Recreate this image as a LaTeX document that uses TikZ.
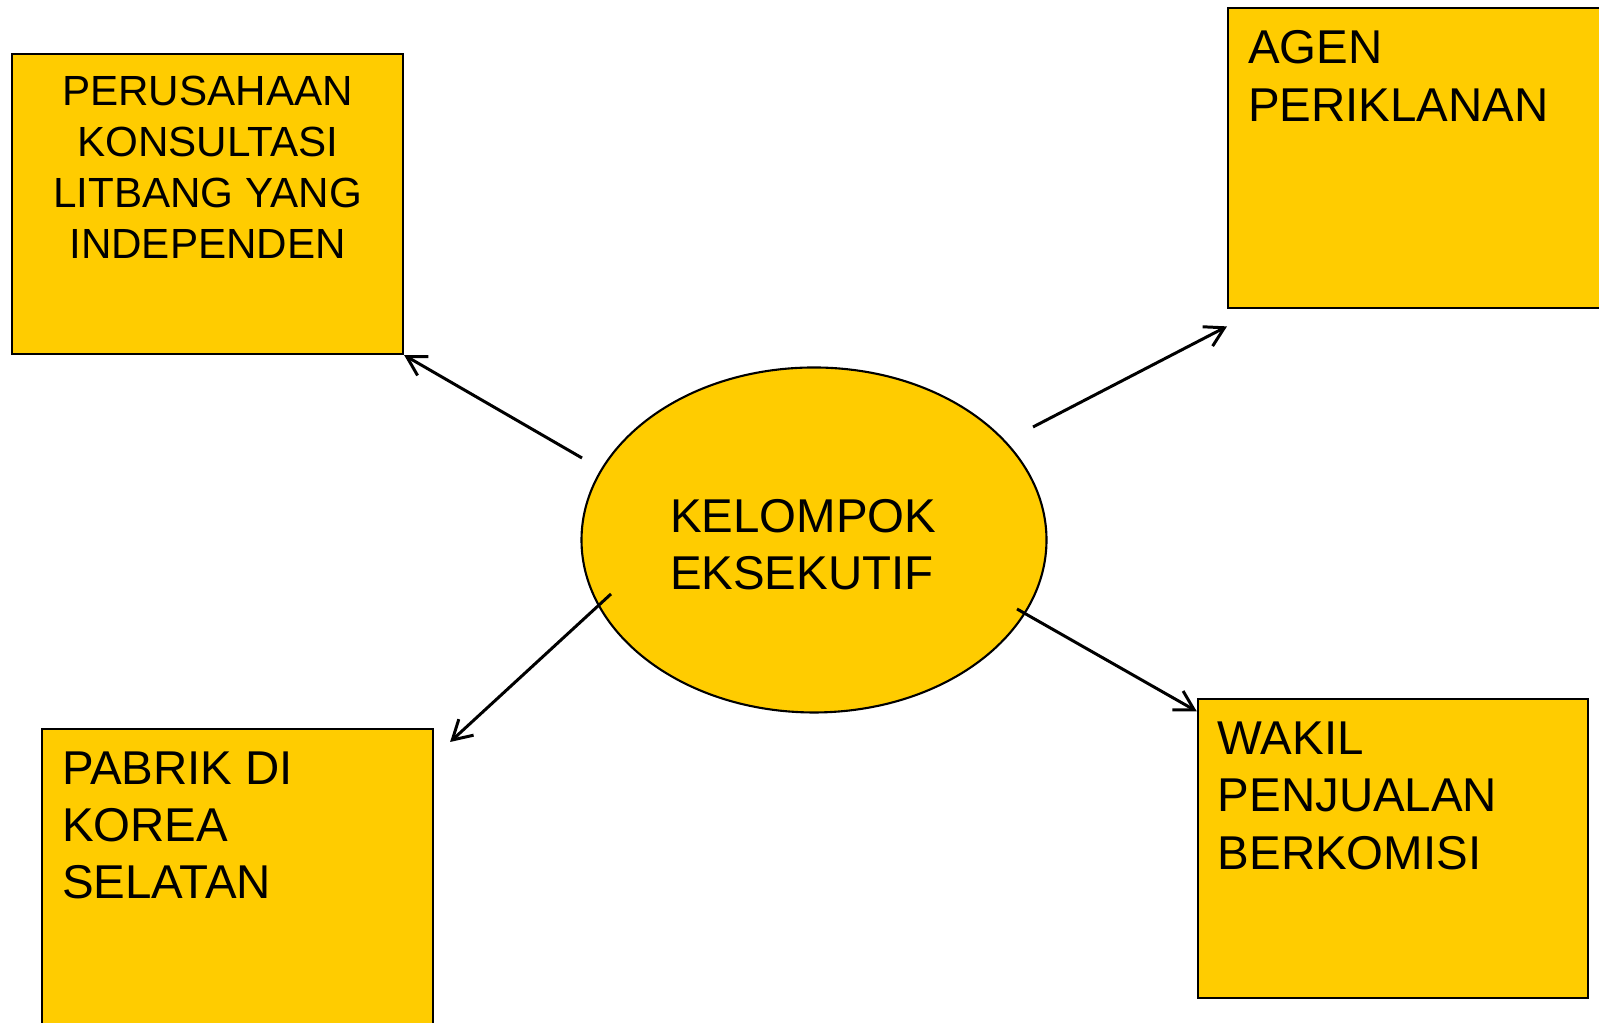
\documentclass[tikz,border=0pt]{standalone}
\usepackage{fontspec}
\setmainfont{Liberation Sans}
\usetikzlibrary{arrows.meta, positioning, calc, shapes.geometric}
\definecolor{kuning}{RGB}{255,204,0}

\begin{document}
\begin{tikzpicture}[
    kotak/.style={draw=black, line width=0.6pt, fill=kuning, anchor=north west,
        inner xsep=0.2cm, inner ysep=0.225cm, font=\fontsize{13.5pt}{16.3pt}\selectfont}, % 黄色方框
    oval/.style={ellipse, draw=black, line width=0.6pt, fill=kuning,
        minimum width=4.65cm, minimum height=3.45cm, inner sep=0pt, align=left,
        text width=2.88cm, text height=0.42cm,
        font=\fontsize{13.5pt}{16.3pt}\selectfont}, % 中间椭圆
    panah/.style={line width=0.85pt, -{Straight Barb[angle=60:6.2pt]}} % 开口箭头
]
    \useasboundingbox (0,0) rectangle (15.99,10.23);

    % 1. 中间椭圆
    \node[oval] (eksekutif) at (8.14,4.83) {KELOMPOK\\EKSEKUTIF};

    % 2. 四个方框(左上、右上、左下、右下)
    \node[kotak, font=\fontsize{12pt}{14.5pt}\selectfont] (konsultan) at (0.11,9.70)
        {\parbox[t][2.55cm][t]{3.51cm}{\centering PERUSAHAAN\\KONSULTASI\\LITBANG YANG\\INDEPENDEN}};
    \node[kotak] (agen) at (12.27,10.157)
        {\parbox[t][2.55cm][t]{3.51cm}{AGEN\\PERIKLANAN}};
    \node[kotak] (pabrik) at (0.41,2.95)
        {\parbox[t][2.55cm][t]{3.51cm}{PABRIK DI\\KOREA\\SELATAN}};
    \node[kotak] (wakil) at (11.967,3.247)
        {\parbox[t][2.54cm][t]{3.50cm}{WAKIL\\PENJUALAN\\BERKOMISI}};

    % 3. 箭头起点(椭圆附近)
    \coordinate (a1) at ($(eksekutif.center)+(-2.32,0.82)$);
    \coordinate (a2) at ($(eksekutif.center)+(2.19,1.13)$);
    \coordinate (a3) at ($(eksekutif.center)+(-2.03,-0.54)$);
    \coordinate (a4) at ($(eksekutif.center)+(2.03,-0.69)$);

    % 4. 箭头
    \draw[panah] (a1) -- (konsultan.south east);
    \draw[panah] (a2) -- ([yshift=-0.17cm]agen.south west);
    \draw[panah] (a3) -- ([shift={(0.16,-0.14)}]pabrik.north east);
    \draw[panah] (a4) -- ([yshift=-0.13cm]wakil.north west);

\end{tikzpicture}
\end{document}
